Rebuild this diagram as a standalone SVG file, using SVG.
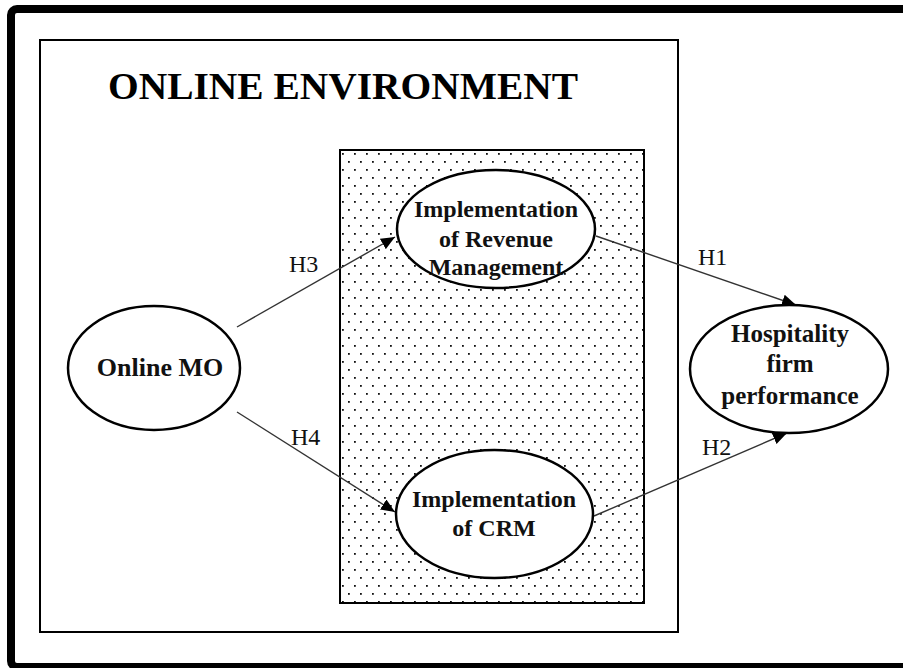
<svg xmlns="http://www.w3.org/2000/svg" width="903" height="668" viewBox="0 0 903 668">
  <defs>
    <pattern id="dots" x="340" y="150" width="12" height="16" patternUnits="userSpaceOnUse">
      <rect x="2" y="3" width="1.8" height="1.8" fill="#111"/>
      <rect x="8" y="11" width="1.8" height="1.8" fill="#111"/>
    </pattern>
    <marker id="arrow" viewBox="0 0 14 12" refX="14" refY="6" markerWidth="14" markerHeight="12" markerUnits="userSpaceOnUse" orient="auto">
      <path d="M0,0 L14,6 L0,12 Z" fill="#000"/>
    </marker>
    <style>
      .node { fill: #fff; stroke: #000; stroke-width: 2.5; }
      .lbl { font-family: "Liberation Serif", "Times New Roman", serif; font-weight: bold; fill: #111; text-anchor: middle; }
      .h { font-family: "Liberation Serif", "Times New Roman", serif; font-size: 24px; fill: #111; }
      .edge { stroke: #333; stroke-width: 1.4; fill: none; marker-end: url(#arrow); }
    </style>
  </defs>
  <rect x="0" y="0" width="903" height="668" fill="#fff"/>
  <rect id="frame" x="11" y="9" width="930" height="658" rx="6" fill="none" stroke="#000" stroke-width="8"/>
  <rect id="environment" x="40" y="40" width="638" height="592" fill="none" stroke="#000" stroke-width="2"/>
  <text x="343" y="99" font-family="Liberation Serif, 'Times New Roman', serif" font-weight="bold" font-size="38" text-anchor="middle" fill="#000" textLength="470" lengthAdjust="spacingAndGlyphs">ONLINE ENVIRONMENT</text>
  <rect id="implementation-area" x="340" y="150" width="304" height="453" fill="url(#dots)" stroke="#000" stroke-width="2"/>

  <g id="connectors">
    <line class="edge" x1="237" y1="327" x2="395" y2="237"/>
    <line class="edge" x1="237" y1="412" x2="395" y2="512"/>
    <line class="edge" x1="596" y1="236" x2="796" y2="305"/>
    <line class="edge" x1="594" y1="516" x2="787" y2="433"/>
    <text class="h" x="289" y="272">H3</text>
    <text class="h" x="291" y="445">H4</text>
    <text class="h" x="698" y="265">H1</text>
    <text class="h" x="702" y="455">H2</text>
  </g>

  <g id="online-mo">
    <ellipse class="node" cx="154" cy="368" rx="86" ry="62"/>
    <text class="lbl" x="160" y="376" font-size="26">Online MO</text>
  </g>
  <g id="revenue-management">
    <ellipse class="node" cx="496" cy="229" rx="99" ry="59"/>
    <text class="lbl" x="496" y="217" font-size="24">Implementation</text>
    <text class="lbl" x="496" y="247" font-size="24">of Revenue</text>
    <text class="lbl" x="496" y="275" font-size="24">Management</text>
  </g>
  <g id="crm">
    <ellipse class="node" cx="494.5" cy="514" rx="98.5" ry="64"/>
    <text class="lbl" x="494" y="507" font-size="24">Implementation</text>
    <text class="lbl" x="494" y="536" font-size="24">of CRM</text>
  </g>
  <g id="hospitality-performance">
    <ellipse class="node" cx="789" cy="369" rx="99" ry="64"/>
    <text class="lbl" x="790" y="342" font-size="25">Hospitality</text>
    <text class="lbl" x="790" y="372" font-size="25">firm</text>
    <text class="lbl" x="790" y="404" font-size="25">performance</text>
  </g>
</svg>
